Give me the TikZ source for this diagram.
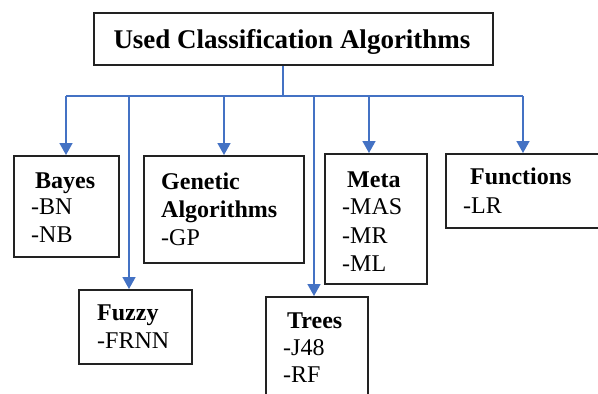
\documentclass[tikz,border=0pt]{standalone}
\usepackage{fontspec}
\setmainfont{LiberationSerif}[Extension=.ttf, UprightFont=*-Regular, BoldFont=*-Bold, ItalicFont=*-Italic, BoldItalicFont=*-BoldItalic]
\usetikzlibrary{arrows.meta}
\definecolor{conncol}{RGB}{68,114,196}
\definecolor{boxcol}{RGB}{34,34,34}
\tikzset{
  box/.style={draw=boxcol, line width=1.8pt, anchor=north west, inner sep=0pt},
  conn/.style={draw=conncol, line width=1.6pt},
  arr/.style={conn, -{Triangle[width=13pt,length=12pt]}},
  hd/.style={anchor=base west, inner sep=0pt, font=\fontsize{24}{27}\selectfont\bfseries},
  itm/.style={anchor=base west, inner sep=0pt, font=\fontsize{24}{27}\selectfont},
  ttl/.style={anchor=base, inner sep=0pt, font=\fontsize{27}{30}\selectfont\bfseries},
}
\begin{document}
\begin{tikzpicture}[x=1pt,y=-1pt]
\useasboundingbox (0,0) rectangle (598,394);
\fill[white] (0,0) rectangle (598,394);
% boxes
\node[box, minimum width=399pt, minimum height=52pt] (title) at (93,12) {};
\node[box, minimum width=105pt, minimum height=101pt] (bayes) at (13,155) {};
\node[box, minimum width=160pt, minimum height=107pt] (genetic) at (143,155) {};
\node[box, minimum width=113pt, minimum height=74pt] (fuzzy) at (78,289) {};
\node[box, minimum width=102pt, minimum height=110pt] (trees) at (265,296) {};
\node[box, minimum width=102pt, minimum height=130pt] (meta) at (324,153) {};
\node[box, minimum width=160pt, minimum height=74pt] (functions) at (445,153) {};
% connectors
\coordinate (hub) at (283,96);
\coordinate (jB) at (66,96);
\coordinate (jFz) at (129,96);
\coordinate (jG) at (224,96);
\coordinate (jT) at (314,96);
\coordinate (jM) at (369,96);
\coordinate (jFn) at (523,96);
\draw[conn] (title.south -| hub) -- (hub);
\draw[conn] (jB) -- (jFn);
\draw[arr] (jB) -- (jB |- bayes.north);
\draw[arr] (jFz) -- (jFz |- fuzzy.north);
\draw[arr] (jG) -- (jG |- genetic.north);
\draw[arr] (jT) -- (jT |- trees.north);
\draw[arr] (jM) -- (jM |- meta.north);
\draw[arr] (jFn) -- (jFn |- functions.north);
% texts
\node[ttl] (ttltext) at (292,48) {Used Classification Algorithms};
\node[hd] (b1) at (35,188) {Bayes};
\node[itm] (b2) at (31,214) {-BN};
\node[itm] (b3) at (31,242) {-NB};
\node[hd] (g1) at (161,189) {Genetic};
\node[hd] (g2) at (161,217) {Algorithms};
\node[itm] (g3) at (161,245) {-GP};
\node[hd] (f1) at (97,320) {Fuzzy};
\node[itm] (f2) at (97,348) {-FRNN};
\node[hd] (t1) at (287,328) {Trees};
\node[itm] (t2) at (283,355) {-J48};
\node[itm] (t3) at (283,382) {-RF};
\node[hd] (m1) at (347,187) {Meta};
\node[itm] (m2) at (342,214) {-MAS};
\node[itm] (m3) at (342,243) {-MR};
\node[itm] (m4) at (342,271) {-ML};
\node[hd] (fn1) at (470,184) {Functions};
\node[itm] (fn2) at (463,213) {-LR};
\end{tikzpicture}
\end{document}
